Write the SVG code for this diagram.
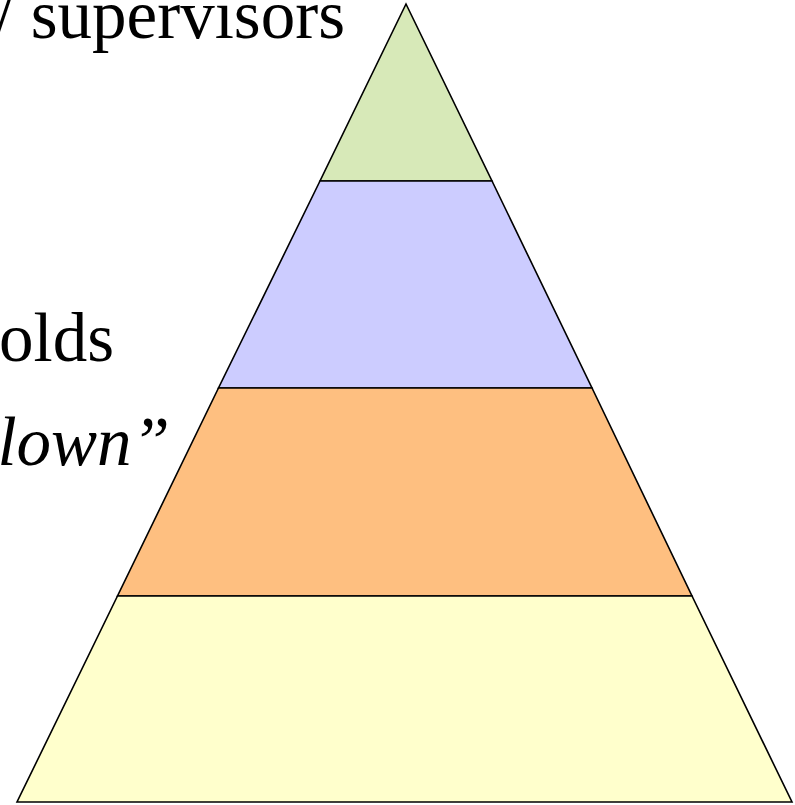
<svg xmlns="http://www.w3.org/2000/svg" width="795" height="805" viewBox="0 0 795 805">
<style>
.layer{stroke:#000;stroke-width:1.6;stroke-linejoin:miter}
.lbl{font-family:"Liberation Serif","Times New Roman",serif;font-size:69px;fill:#000}
.it{font-style:italic}
</style>
<rect width="795" height="805" fill="#fff"/>
<g id="layer-top"><polygon class="layer" fill="#D7E9B8" points="406,4 492,181 320,181"/></g>
<g id="layer-2"><polygon class="layer" fill="#CCCCFF" points="320,181 492,181 592,388 218.5,388"/></g>
<g id="layer-3"><polygon class="layer" fill="#FEBF80" points="218.5,388 592,388 692,596 117.5,596"/></g>
<g id="layer-bottom"><polygon class="layer" fill="#FFFFCC" points="117.5,596 692,596 792,802 17,802"/></g>
<g id="labels">
<text class="lbl" x="345" y="38" text-anchor="end">/ supervisors</text>
<text class="lbl" x="114" y="361" text-anchor="end">olds</text>
<text class="lbl it" x="170" y="465" text-anchor="end">lown”</text>
</g>
</svg>
